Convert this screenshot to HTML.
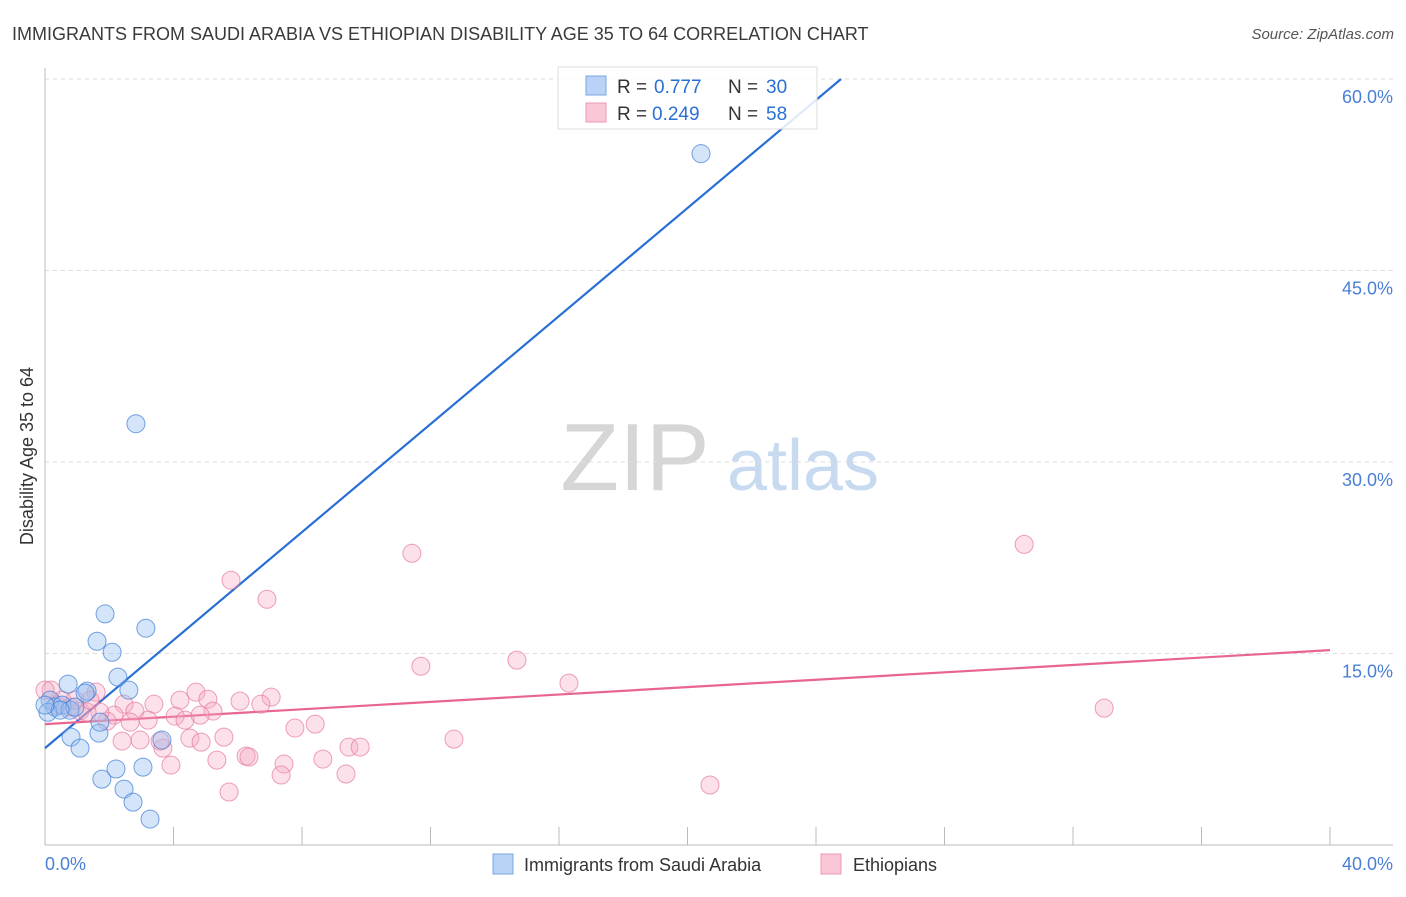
<!DOCTYPE html>
<html><head><meta charset="utf-8"><style>
body{margin:0;background:#fff;font-family:"Liberation Sans",sans-serif;}
svg text{font-family:"Liberation Sans",sans-serif;}
</style></head><body>
<svg id="chart" width="1406" height="892" viewBox="0 0 1406 892" xmlns="http://www.w3.org/2000/svg">
<text x="12" y="40" font-size="18" fill="#3a3a3a">IMMIGRANTS FROM SAUDI ARABIA VS ETHIOPIAN DISABILITY AGE 35 TO 64 CORRELATION CHART</text>
<text x="1394" y="39" font-size="15" fill="#555" text-anchor="end" font-style="italic">Source: ZipAtlas.com</text>
<g>
<text x="635" y="490" font-size="96" fill="#d6d6d6" font-family="Liberation Serif" text-anchor="middle">ZIP</text>
<text x="803" y="490" font-size="72" fill="#c7daf0" text-anchor="middle">atlas</text>
</g>
<g id="grid"></g>
<g id="axes"></g>
<text transform="translate(33,456) rotate(-90)" font-size="18" fill="#333" text-anchor="middle">Disability Age 35 to 64</text>
<g id="trend"></g>
<g id="points"></g>
<g>
<rect x="558" y="67" width="259" height="62" fill="#fff" fill-opacity="0.85" stroke="#ddd"/>
<rect x="586" y="76" width="20" height="19" fill="#b8d3f5" stroke="#7aa7e0"/>
<text x="617" y="93" font-size="19" fill="#333">R = </text>
<text x="654" y="93" font-size="19" fill="#2a6fd6">0.777</text>
<text x="728" y="93" font-size="19" fill="#333">N = </text>
<text x="766" y="93" font-size="19" fill="#2a6fd6">30</text>
<rect x="586" y="103" width="20" height="19" fill="#f9c7d5" stroke="#ee9ab3"/>
<text x="617" y="120" font-size="19" fill="#333">R = </text>
<text x="652" y="120" font-size="19" fill="#2a6fd6">0.249</text>
<text x="728" y="120" font-size="19" fill="#333">N = </text>
<text x="766" y="120" font-size="19" fill="#2a6fd6">58</text>
</g>
<g>
<rect x="493" y="854" width="20" height="20" fill="#b8d3f5" stroke="#7aa7e0"/>
<text x="524" y="871" font-size="18" fill="#333">Immigrants from Saudi Arabia</text>
<rect x="821" y="854" width="20" height="20" fill="#f9c7d5" stroke="#ee9ab3"/>
<text x="853" y="871" font-size="18" fill="#333">Ethiopians</text>
</g>
</svg>
<script>
const yTicks=[15,30,45,60];
const yTickLabels=["15.0%","30.0%","45.0%","60.0%"];
const xTickLabels=["0.0%","40.0%"];
const saudiX=[20.42,2.83,1.87,3.14,1.62,2.09,2.27,0.72,1.31,2.61,0.16,0.31,0.53,0.78,1.25,0.09,0.81,1.09,1.68,1.71,3.64,2.21,1.77,3.05,2.46,2.74,3.27,0.93,0.47,0];
const saudiY=[54.15,33.0,18.1,16.98,15.96,15.1,13.15,12.6,12.05,12.13,11.35,10.8,10.96,10.56,11.9,10.4,8.45,7.59,8.76,9.62,8.22,5.95,5.16,6.1,4.38,3.36,2.03,10.8,10.56,10.96];
const ethX=[5.79,6.91,11.42,30.48,11.7,14.69,16.31,32.97,0.19,1.59,4.70,4.20,5.07,7.04,6.07,6.72,2.46,2.80,3.39,5.23,4.05,4.36,3.21,2.15,1.93,1.71,0.37,0.78,1.09,1.31,8.41,7.78,3.67,4.51,5.57,4.86,2.40,2.96,12.73,8.65,9.46,9.81,3.92,5.35,6.26,6.35,7.44,7.35,9.37,5.73,20.70,0.53,0,3.58,2.65,1.40,0.93,4.83];
const ethY=[20.74,19.25,22.85,23.55,14.0,14.48,12.68,10.72,12.13,11.97,11.97,11.35,11.42,11.58,11.27,11.03,11.03,10.49,11.03,10.49,10.09,9.78,9.78,10.17,9.7,10.41,10.96,10.8,10.49,10.41,9.47,9.16,7.59,8.37,8.45,8.06,8.14,8.22,8.29,6.73,7.67,7.67,6.26,6.65,6.96,6.89,6.34,5.48,5.56,4.15,4.70,11.35,12.13,8.14,9.62,11.35,11.35,10.17];
const saudiTrend=[7.59,2.115];
const ethTrend=[9.47,0.1448];
const NS="http://www.w3.org/2000/svg";
const X0=45,X1=1330,Y0=845,Y60=79;
function sx(v){return X0+v/40*(X1-X0);}
function sy(v){return Y0-v/60*(Y0-Y60);}
function mk(tag,attrs,parent){const e=document.createElementNS(NS,tag);for(const k in attrs)e.setAttribute(k,attrs[k]);parent.appendChild(e);return e;}
const grid=document.getElementById('grid'),axes=document.getElementById('axes');
yTicks.forEach((t,i)=>{
  const l=mk('line',{x1:X0,x2:1393,y1:sy(t),y2:sy(t),stroke:'#ddd','stroke-dasharray':'4,4'},grid);
  
  
  const tx=mk('text',{x:1393,y:sy(t)+24,'font-size':18,fill:'#4a7fd6','text-anchor':'end'},grid);
  tx.textContent=yTickLabels[i];
  
  
});
const xa=mk('line',{x1:X0,x2:1393,y1:Y0,y2:Y0,stroke:'#bbb'},axes);


const ya=mk('line',{x1:X0,x2:X0,y1:68,y2:Y0,stroke:'#bbb'},axes);


for(let k=4;k<=40;k+=4){
  const t=mk('line',{x1:sx(k),x2:sx(k),y1:827,y2:Y0,stroke:'#bbb'},axes);
  
  
}
const xl0=mk('text',{x:45,y:870,'font-size':18,fill:'#4a7fd6'},axes);xl0.textContent=xTickLabels[0];


const xl1=mk('text',{x:1393,y:870,'font-size':18,fill:'#4a7fd6','text-anchor':'end'},axes);xl1.textContent=xTickLabels[1];


const pts=document.getElementById('points');
ethX.forEach((x,i)=>{
  const c=mk('circle',{cx:sx(x),cy:sy(ethY[i]),r:9,fill:'rgba(245,170,195,0.35)',stroke:'rgba(230,120,155,0.7)','stroke-width':1},pts);
  
  
});
saudiX.forEach((x,i)=>{
  const c=mk('circle',{cx:sx(x),cy:sy(saudiY[i]),r:9,fill:'rgba(150,190,240,0.4)',stroke:'rgba(70,130,215,0.75)','stroke-width':1},pts);
  
  
});
const tr=document.getElementById('trend');
const xEnd=(60-saudiTrend[0])/saudiTrend[1];
const bl=mk('line',{x1:sx(0),y1:sy(saudiTrend[0]),x2:sx(xEnd),y2:sy(60),stroke:'#2a6fd6','stroke-width':2.2},tr);


const pl=mk('line',{x1:sx(0),y1:sy(ethTrend[0]),x2:sx(40),y2:sy(ethTrend[0]+40*ethTrend[1]),stroke:'#e8668e','stroke-width':2.2},tr);


</script>
</body></html>
